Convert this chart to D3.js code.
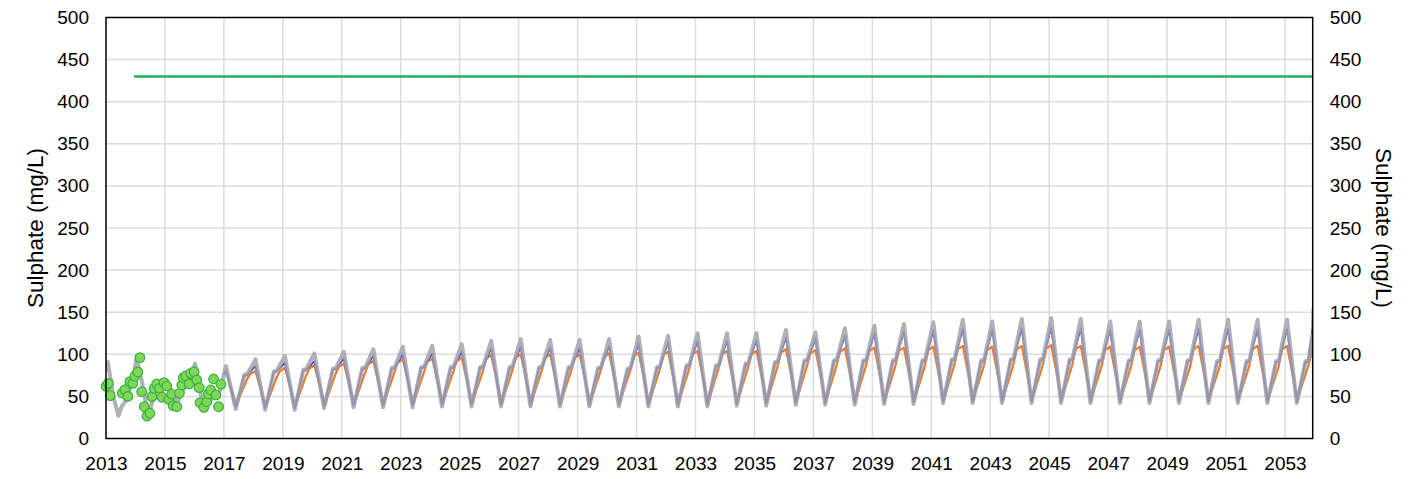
<!DOCTYPE html>
<html><head><meta charset="utf-8">
<script src="https://cdn.jsdelivr.net/npm/d3@7"></script>
<style>
html,body{margin:0;padding:0;background:#fff;}
text{font-family:"Liberation Sans",Arial,sans-serif;fill:#000;}
</style></head>
<body>
<svg id="chart" width="1424" height="479"></svg>
<script>
// ---------------- DATA ----------------
const xTicks = [2013,2015,2017,2019,2021,2023,2025,2027,2029,2031,2033,2035,2037,2039,2041,2043,2045,2047,2049,2051,2053];
const yTicks = [0,50,100,150,200,250,300,350,400,450,500];
const yTitle = "Sulphate (mg/L)";

// guideline (limit)
const limitX = [2013.95, 2053.94];
const limitY = [430, 430];

// observed samples (decimal years)
const obsX = [2013.0,2013.08,2013.14,2013.55,2013.64,2013.74,2013.81,2013.91,2013.98,2014.08,2014.15,2014.21,2014.30,2014.39,2014.49,2014.56,2014.63,2014.72,2014.81,2014.90,2014.97,2015.06,2015.13,2015.23,2015.28,2015.40,2015.49,2015.57,2015.62,2015.71,2015.82,2015.87,2015.99,2016.08,2016.16,2016.19,2016.32,2016.42,2016.47,2016.55,2016.65,2016.73,2016.82,2016.90];
const obsY = [62,65.5,51,54,58,50,67.5,65.5,74,79,96,55.6,37.8,26.7,30,49.7,59.6,64.7,59.6,49,66.3,62.4,46.5,52.5,39,37.8,53.7,63.5,72.2,74.2,64.7,77.4,79.3,69.5,60.4,42.5,37,43.7,52.9,57.6,70.7,51.7,37.8,64.4];

// historical model (gray) 2013-2017
const histX = [2013.0,2013.06,2013.25,2013.42,2013.53,2013.70,2013.93,2014.04,2014.21,2014.44,2014.72,2014.89,2015.06,2015.23,2015.42,2015.62,2015.85,2016.02,2016.13,2016.33,2016.59,2016.87];
const histY = [80,91,50,27,38,46,73,96,69,26,63,69,67,57,42,58,70,89,67,34,48,57];

// projection years
const projYears = d3.range(2017, 2054);
const projStart = 2017.0;
const projEnd = 2053.94;

// gray scenario
const grayStart = 76, grayEnd = 124;
const grayPeak = [86,94,98,101,103,106,109,110,112,116,118,117,117,118,121,122,125,125,125,129,126,131,134,136,138,141,139,142,143,142,139,139,139,141,141,141,141];
const grayTrough = [35,34,34,36,37,37,37,38,38,38,38,38,38,38,38,38,38,39,39,40,40,40,41,41,42,42,42,42,42,42,42,42,42,42,42,42,42];
const grayShoulder = [76,80,82,83,84,84,85,85,85,85,85,85,84,83,85,87,87,89,91,93,93,93,93,93,94,93,94,94,94,93,93,93,93,92,92,92,92];

// blue scenario
const blueStart = 76, blueEnd = 130;
const bluePeak = [80,86,90,92,95,98,100,101,103,107,109,108,108,110,113,114,116,116,117,120,118,122,125,127,128,130,129,131,132,131,129,129,129,130,130,130,130];
const blueTrough = [37,36,36,38,39,39,39,40,40,40,40,40,40,40,40,40,40,41,41,42,42,42,43,43,44,44,44,44,44,44,44,44,44,44,44,44,44];
const blueShoulder = [75,79,81,82,83,83,84,84,84,84,84,84,83,82,84,86,86,88,90,92,92,92,92,92,93,92,93,93,93,92,92,92,92,91,91,91,91];

// orange scenario
const orangeStart = 77, orangeEnd = 155;
const orangePeak = [80,80,84,87,89,92,94,95,96,99,100,100,100,101,102,103,104,104,104,106,105,107,108,108,109,110,109,110,111,110,109,109,109,110,110,110,110];
const orangeTrough = [40,38,38,40,41,41,41,42,42,42,42,42,42,42,42,42,42,43,43,44,44,44,45,45,46,46,46,46,46,46,46,46,46,46,46,46,46];
const orangeShoulder = [70,72,74,76,77,78,78,79,79,80,80,80,80,80,81,82,83,84,85,86,86,86,86,86,87,86,87,87,87,86,86,86,85,85,85,85,85];
const orangePlateau = [77,80,83,85,88,90,91,92,95,96,96,96,97,98,99,100,100,100,102,101,103,104,104,105,106,105,106,107,106,105,105,105,106,106,106,106,100];

// ---------------- CHART ----------------
const W = 1424, H = 479;
const m = {left:106, right:1424-1312.7, top:17.5, bottom:479-438.5};
const svg = d3.select("#chart");
const x = d3.scaleLinear().domain([2013, 2053.94]).range([m.left, W - m.right]);
const y = d3.scaleLinear().domain([0, 500]).range([H - m.bottom, m.top]);

svg.append("defs").append("clipPath").attr("id","clip")
  .append("rect").attr("x", x.range()[0]).attr("y", y.range()[1])
  .attr("width", x.range()[1]-x.range()[0]).attr("height", y.range()[0]-y.range()[1]);

// grid
const grid = svg.append("g");
grid.selectAll("line.h").data(yTicks.filter(d => d > 0 && d < 500)).join("line")
  .attr("x1", x.range()[0]).attr("x2", x.range()[1])
  .attr("y1", d => y(d)).attr("y2", d => y(d))
  .attr("stroke", "#dcdcdc").attr("stroke-width", 1.5);
grid.selectAll("line.v").data(xTicks.filter(d => d > 2013)).join("line")
  .attr("x1", d => x(d)).attr("x2", d => x(d))
  .attr("y1", y.range()[0]).attr("y2", y.range()[1])
  .attr("stroke", "#dcdcdc").attr("stroke-width", 1.5);

// axes
const fs = "19px";
const axL = svg.append("g").attr("transform", `translate(${x.range()[0]},0)`)
  .call(d3.axisLeft(y).tickValues(yTicks).tickSize(0).tickPadding(17));
const axR = svg.append("g").attr("transform", `translate(${x.range()[1]},0)`)
  .call(d3.axisRight(y).tickValues(yTicks).tickSize(0).tickPadding(17));
const axB = svg.append("g").attr("transform", `translate(0,${y.range()[0]})`)
  .call(d3.axisBottom(x).tickValues(xTicks).tickFormat(d3.format("d")).tickSize(0).tickPadding(18.5));
[axL, axR, axB].forEach(a => {
  a.select(".domain").remove();
  a.selectAll("text").style("font-size", fs).style("font-family", '"Liberation Sans", Arial, sans-serif').attr("fill", "#000");
});

// titles
svg.append("text").attr("transform", `translate(43,${(y.range()[0]+y.range()[1])/2}) rotate(-90)`)
  .attr("text-anchor","middle").style("font-size","22.5px").text(yTitle);
svg.append("text").attr("transform", `translate(1376,${(y.range()[0]+y.range()[1])/2}) rotate(90)`)
  .attr("text-anchor","middle").style("font-size","22.5px").text(yTitle);

// build series
function build(start, peak, trough, shoulder, end, ph, plateau) {
  const pts = [[projStart, start]];
  projYears.forEach((yr, i) => {
    pts.push([yr + ph.peak, peak[i]]);
    pts.push([yr + ph.trough, trough[i]]);
    pts.push([yr + ph.s1, shoulder[i]]);
    pts.push([yr + ph.s2, plateau ? plateau[i] : shoulder[i]]);
  });
  pts.push([projEnd, end]);
  return pts;
}
const graySeries = histX.map((d, i) => [d, histY[i]])
  .concat(build(grayStart, grayPeak, grayTrough, grayShoulder, grayEnd, {peak:0.07, trough:0.40, s1:0.70, s2:0.79}));
const blueSeries = build(blueStart, bluePeak, blueTrough, blueShoulder, blueEnd, {peak:0.07, trough:0.40, s1:0.69, s2:0.78});
const orangeSeries = build(orangeStart, orangePeak, orangeTrough, orangeShoulder, orangeEnd, {peak:0.07, trough:0.42, s1:0.78, s2:0.90}, orangePlateau);

const line = d3.line().x(d => x(d[0])).y(d => y(d[1]));
const plot = svg.append("g").attr("clip-path", "url(#clip)");

plot.append("path").datum(orangeSeries).attr("d", line).attr("fill","none")
  .attr("stroke","#f07a28").attr("stroke-width",2.2).attr("stroke-linejoin","round");
plot.append("path").datum(blueSeries).attr("d", line).attr("fill","none")
  .attr("stroke","#3c3cdc").attr("stroke-width",1.8).attr("stroke-linejoin","round");
plot.append("path").datum(graySeries).attr("d", line).attr("fill","none")
  .attr("stroke","#a2a2aa").attr("stroke-opacity",0.85).attr("stroke-width",4).attr("stroke-linejoin","round");

// limit line
plot.append("path").datum(limitX.map((d, i) => [d, limitY[i]])).attr("d", line)
  .attr("fill","none").attr("stroke","#1fb25a").attr("stroke-width",2.5);

// observed dots
svg.append("g").selectAll("circle").data(obsX.map((d, i) => [d, obsY[i]])).join("circle")
  .attr("cx", d => x(d[0])).attr("cy", d => y(d[1])).attr("r", 4.8)
  .attr("fill", "#7fd65a").attr("stroke", "#35b23c").attr("stroke-width", 1.2);

// frame
svg.append("rect").attr("x", x.range()[0]).attr("y", y.range()[1])
  .attr("width", x.range()[1]-x.range()[0]).attr("height", y.range()[0]-y.range()[1])
  .attr("fill","none").attr("stroke","#000").attr("stroke-width",1.5);
</script>
</body></html>
